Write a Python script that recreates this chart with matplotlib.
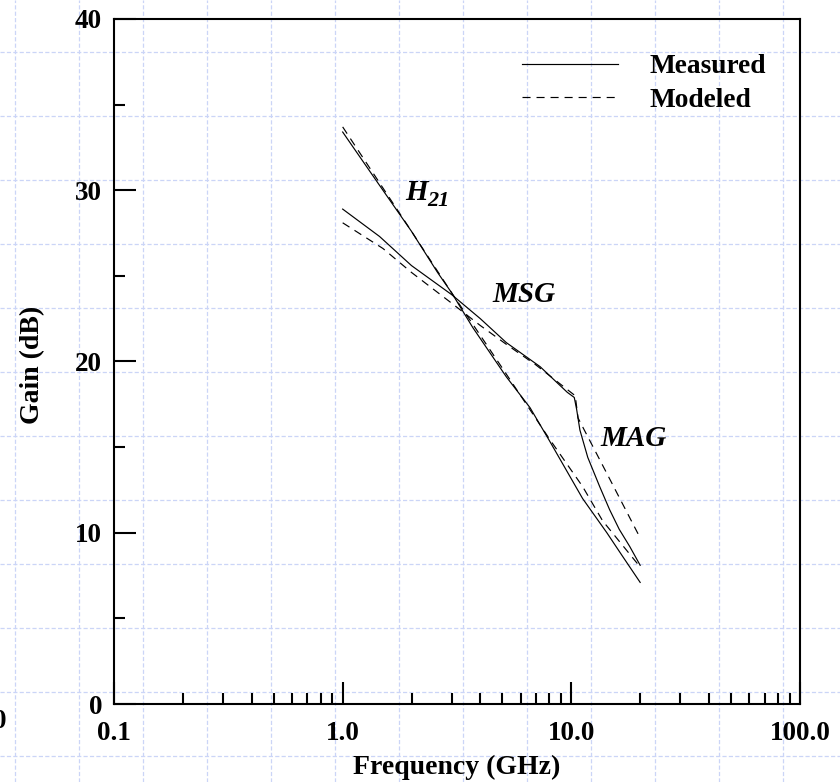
import matplotlib
matplotlib.use("Agg")
import matplotlib.pyplot as plt
from matplotlib.lines import Line2D
from matplotlib.ticker import LogLocator, NullFormatter, FixedLocator
import numpy as np

plt.rcParams['font.family'] = ['Liberation Serif', 'DejaVu Serif']
plt.rcParams['font.weight'] = 'bold'
plt.rcParams['lines.scale_dashes'] = False

# ---- data -------------------------------------------------------------
# current gain |H21|
f_h21_meas = [1.0, 1.5, 2.0, 2.6, 3.0, 3.7, 5.2, 6.6, 8.0, 11.2, 14.3, 16.8, 20.0]
g_h21_meas = [33.4, 30.0, 27.6, 25.2, 24.0, 22.0, 19.1, 17.3, 15.4, 12.0, 10.0, 8.6, 7.1]
f_h21_model = [1.0, 2.0, 3.0, 5.0, 8.0, 11.2, 13.7, 20.0]
g_h21_model = [33.7, 27.6, 24.0, 19.6, 15.5, 12.7, 10.7, 8.0]

# maximum stable gain followed by maximum available gain
f_msg_meas = [1.0, 1.45, 2.0, 3.0, 4.0, 5.2, 7.3, 9.6, 10.3,
              10.55, 10.9, 11.8, 13.3, 14.7, 16.2, 18.0, 20.0]
g_msg_meas = [28.9, 27.3, 25.6, 23.9, 22.5, 21.1, 19.7, 18.2, 17.9,
              17.2, 16.0, 14.4, 12.7, 11.35, 10.2, 9.2, 8.1]
f_msg_model = [1.0, 1.5, 2.0, 3.0, 4.0, 5.2, 7.0, 10.4, 10.7, 14.0, 20.0]
g_msg_model = [28.1, 26.6, 25.2, 23.4, 22.1, 21.0, 19.8, 18.0, 16.7, 13.7, 9.7]

x_major = [0.1, 1.0, 10.0, 100.0]
x_major_labels = ['0.1', '1.0', '10.0', '100.0']
y_major = [0, 10, 20, 30, 40]
y_minor = [5, 15, 25, 35]

# ---- figure ----------------------------------------------------------
W, H = 840, 782
fig = plt.figure(figsize=(W / 100, H / 100), dpi=100)

# light dashed page grid behind everything
grid_kw = dict(transform=fig.transFigure, color='#cbd5f7', lw=0.9,
               ls=(0, (3.0, 1.6)), zorder=-5)
for x in np.arange(15, W, 64):
    fig.add_artist(Line2D([x / W, x / W], [0, 1], **grid_kw))
for y in np.arange(52, H, 64):
    fig.add_artist(Line2D([0, 1], [1 - y / H, 1 - y / H], **grid_kw))

ax = fig.add_axes([114 / W, 1 - 704 / H, 686 / W, 685 / H])
ax.set_facecolor('none')
ax.set_xscale('log')
ax.set_xlim(0.1, 100)
ax.set_ylim(0, 40)

solid_kw = dict(color='black', lw=0.85)
dash_kw = dict(color='black', lw=0.85, ls=(0, (5.8, 4.3)))

ax.plot(f_h21_meas, g_h21_meas, label='Measured', **solid_kw)
ax.plot(f_h21_model, g_h21_model, label='Modeled', **dash_kw)
ax.plot(f_msg_meas, g_msg_meas, **solid_kw)
ax.plot(f_msg_model, g_msg_model, **dash_kw)

# ticks
ax.xaxis.set_major_locator(FixedLocator(x_major))
ax.set_xticklabels(x_major_labels)
ax.xaxis.set_minor_locator(LogLocator(base=10, subs=np.arange(2, 10)))
ax.xaxis.set_minor_formatter(NullFormatter())
ax.set_yticks(y_major)
ax.set_yticks(y_minor, minor=True)
ax.tick_params(which='both', direction='in', top=False, right=False,
               width=1.5, labelsize=19.5)
ax.tick_params(which='major', length=16)
ax.tick_params(which='minor', length=8)
ax.tick_params(axis='x', pad=12.5)
ax.tick_params(axis='y', pad=8.5)
for lab in ax.get_xticklabels() + ax.get_yticklabels():
    lab.set_fontweight('bold')
for sp in ax.spines.values():
    sp.set_linewidth(1.5)

ax.set_xlabel('Frequency (GHz)', fontsize=20, fontweight='bold')
ax.set_ylabel('Gain (dB)', fontsize=20, fontweight='bold')
ax.xaxis.set_label_coords(0.5, -0.0737)
ax.yaxis.set_label_coords(-0.1006, 0.495)

leg = ax.legend(loc='upper left', bbox_to_anchor=(0.595, 0.949),
                frameon=False, borderpad=0, borderaxespad=0,
                handlelength=3.5, handletextpad=1.17, labelspacing=0.32,
                prop={'weight': 'bold', 'size': 19.7})

# curve labels
lbl_kw = dict(fontstyle='italic', fontweight='bold')
ax.text(1.886, 29.43, 'H', fontsize=21, ha='left', va='baseline', **lbl_kw)
ax.annotate('21', xy=(1.886, 29.43), xytext=(15.3, -4.0),
            textcoords='offset points', fontsize=16, ha='left',
            va='baseline', **lbl_kw)
ax.text(6.18, 23.9, 'MSG', fontsize=21, ha='center', va='center', **lbl_kw)
ax.text(18.7, 15.5, 'MAG', fontsize=21, ha='center', va='center', **lbl_kw)

fig.text(7 / W, 1 - 722 / H, '0', fontsize=19.5, fontweight='bold',
         ha='right', va='center')

fig.savefig('out.png', dpi=100)
